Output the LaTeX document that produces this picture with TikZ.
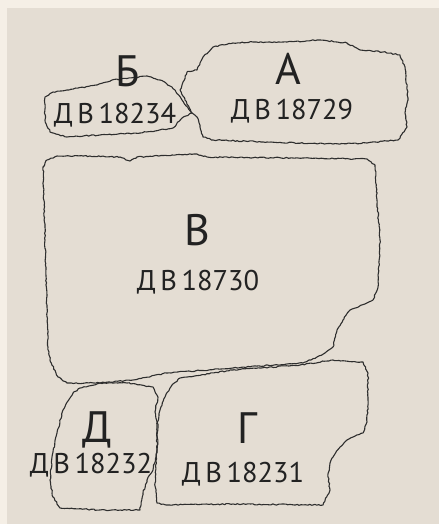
\documentclass[tikz,border=0pt]{standalone}
\usepackage{fontspec}
\setmainfont{PT Sans}
\usetikzlibrary{decorations.pathmorphing}
\definecolor{outerbg}{HTML}{F5EFE6}
\definecolor{innerbg}{HTML}{E4DDD3}
\definecolor{stoneline}{HTML}{2E2E2E}
\definecolor{txt}{HTML}{222222}
\newcommand{\invsp}{\hspace{0.16em}}
\begin{document}
\begin{tikzpicture}[x=1pt,y=-1pt,
  stone/.style={draw=stoneline,line width=1.1pt,line join=round,decorate,
    decoration={random steps,segment length=2.2pt,amplitude=0.6pt}},
  bigletter/.style={anchor=base,inner sep=0pt,text=txt,font=\fontsize{44}{44}\selectfont},
  inventory/.style={anchor=base,inner sep=0pt,text=txt,font=\fontsize{28.5}{28.5}\selectfont}]
\pgfmathsetseed{7}
\useasboundingbox (0,0) rectangle (439,524);
\fill[outerbg] (0,0) rectangle (439,524);
\fill[innerbg] (7,8) rectangle (439,524);
% stone A
\draw[stone] (180,90) -- (185,100) -- (192,113) -- (197,117) -- (200,127) -- (203,137) -- (213,140) -- (267,142) -- (333,144) -- (367,143) -- (398,140) -- (407,127) -- (405,113) -- (408,100) -- (407,87) -- (405,67) -- (400,55) -- (383,52) -- (360,50) -- (347,43) -- (320,40) -- (287,42) -- (253,42) -- (233,43) -- (213,47) -- (203,57) -- (200,63) -- (197,70) -- (187,72) -- cycle;
% stone B (Б)
\draw[stone] (45,97) -- (53,92) -- (67,90) -- (97,85) -- (112,80) -- (147,76) -- (160,80) -- (172,87) -- (182,100) -- (192,113) -- (182,118) -- (173,128) -- (140,133) -- (100,135) -- (67,137) -- (50,132) -- (45,120) -- cycle;
% stone V (В)
\draw[stone] (47,160) -- (57,156) -- (90,156) -- (120,157) -- (130,161) -- (137,157) -- (197,154) -- (207,157) -- (290,158) -- (367,159) -- (375,165) -- (377,200) -- (380,240) -- (378,287) -- (373,300) -- (350,310) -- (343,320) -- (337,330) -- (333,347) -- (325,353) -- (317,357) -- (303,363) -- (233,368) -- (167,373) -- (133,380) -- (100,383) -- (67,383) -- (58,377) -- (50,360) -- (48,347) -- (47,307) -- (45,240) -- (43,167) -- cycle;
% stone G (Г)
\draw[stone] (180,378) -- (172,385) -- (165,397) -- (160,410) -- (157,425) -- (157,450) -- (155,483) -- (157,503) -- (167,505) -- (233,504) -- (323,505) -- (330,490) -- (328,477) -- (330,463) -- (333,457) -- (340,447) -- (347,440) -- (353,437) -- (363,433) -- (367,422) -- (368,400) -- (368,373) -- (363,362) -- (333,360) -- (300,365) -- (233,370) -- cycle;
% stone D (Д)
\draw[stone] (73,393) -- (80,388) -- (100,383) -- (127,383) -- (153,387) -- (158,397) -- (155,412) -- (158,427) -- (157,450) -- (153,470) -- (147,480) -- (143,493) -- (140,510) -- (100,510) -- (60,508) -- (53,497) -- (50,480) -- (52,457) -- (57,433) -- (63,410) -- cycle;
% labels
\node[bigletter] (lA) at (288,85) {А};
\node[inventory] (nA) at (292,120) {Д\invsp В\invsp 18729};
\node[bigletter] (lB) at (128,87) {Б};
\node[inventory] (nB) at (115,123) {Д\invsp В\invsp 18234};
\node[bigletter] (lV) at (197,245) {В};
\node[inventory] (nV) at (198,290) {Д\invsp В\invsp 18730};
\node[bigletter] (lG) at (247,443) {Г};
\node[inventory] (nG) at (243,482) {Д\invsp В\invsp 18231};
\node[bigletter] (lD) at (97,442) {Д};
\node[inventory] (nD) at (91,473) {Д\invsp В\invsp 18232};
\end{tikzpicture}
\end{document}
